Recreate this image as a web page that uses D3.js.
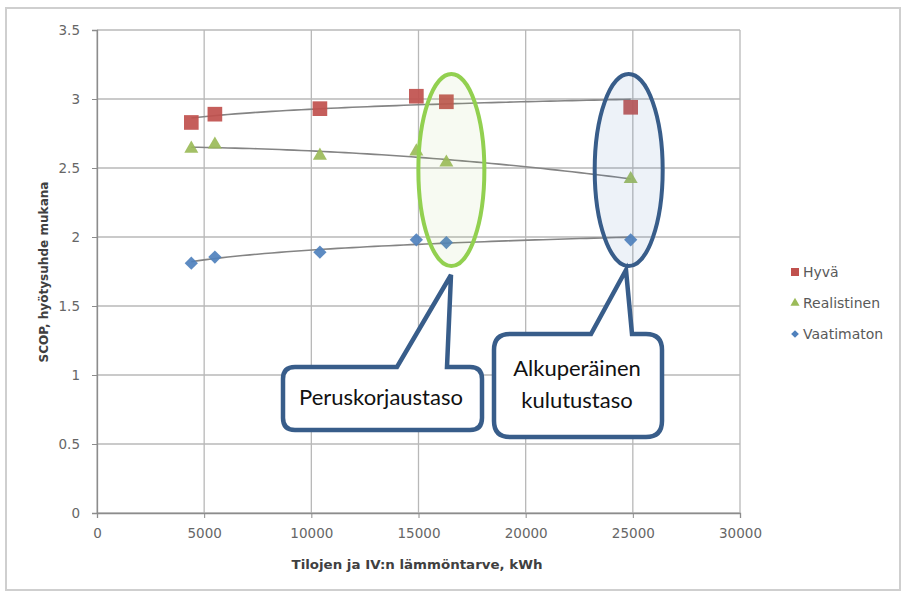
<!DOCTYPE html>
<html>
<head>
<meta charset="utf-8">
<script src="https://cdn.jsdelivr.net/npm/d3@7"></script>
<style>
  html, body { margin: 0; padding: 0; background: #fff; }
  svg { display: block; font-family: "DejaVu Sans", sans-serif; }
</style>
</head>
<body>
<svg id="chart" width="902" height="592"></svg>
<script>
// ---- Data ----
const xValues = [4400, 5500, 10400, 14900, 16300, 24900];
const hyva = [2.83, 2.89, 2.93, 3.02, 2.98, 2.94];
const realistinen = [2.64, 2.67, 2.59, 2.62, 2.54, 2.42];
const vaatimaton = [1.81, 1.855, 1.89, 1.98, 1.96, 1.98];
const seriesNames = ["Hyvä", "Realistinen", "Vaatimaton"];
const xTicks = [0, 5000, 10000, 15000, 20000, 25000, 30000];
const yTicks = [0, 0.5, 1, 1.5, 2, 2.5, 3, 3.5];
const xTitle = "Tilojen ja IV:n lämmöntarve, kWh";
const yTitle = "SCOP, hyötysuhde mukana";
const callout1 = ["Peruskorjaustaso"];
const callout2 = ["Alkuperäinen", "kulutustaso"];

// ---- Setup ----
const svg = d3.select("#chart");
const x = d3.scaleLinear().domain([0, 30000]).range([97, 740]);
const y = d3.scaleLinear().domain([0, 3.5]).range([513, 30]);
const CALLOUT_FONT = "Lato, 'Open Sans', sans-serif";

// outer border
svg.append("rect").attr("x", 6).attr("y", 8).attr("width", 894).attr("height", 582)
  .attr("fill", "#fff").attr("stroke", "#cfcfcf").attr("stroke-width", 2);

// gridlines
const grid = svg.append("g");
grid.selectAll(".hg").data(yTicks).join("line")
  .attr("x1", x(0)).attr("x2", x(30000))
  .attr("y1", d => y(d)).attr("y2", d => y(d))
  .attr("stroke", "#b8b8b8").attr("stroke-width", 1.3);
grid.selectAll(".vg").data(xTicks).join("line")
  .attr("x1", d => x(d)).attr("x2", d => x(d))
  .attr("y1", y(0)).attr("y2", y(3.5))
  .attr("stroke", "#b8b8b8").attr("stroke-width", 1.3);

// axes
const xAxis = d3.axisBottom(x).tickValues(xTicks).tickSize(5).tickPadding(10).tickFormat(d3.format("d"));
const yAxis = d3.axisLeft(y).tickValues(yTicks).tickSize(5).tickPadding(12).tickFormat(d => String(d));
const gx = svg.append("g").attr("transform", `translate(0,${y(0)})`).call(xAxis);
const gy = svg.append("g").attr("transform", `translate(${x(0)},0)`).call(yAxis);
[gx, gy].forEach(g => {
  g.attr("font-family", null).attr("font-size", null);
  g.select(".domain").attr("stroke", "#8c8c8c").attr("stroke-width", 1.3);
  g.selectAll(".tick line").attr("stroke", "#8c8c8c");
  g.selectAll(".tick text").attr("fill", "#666").style("font-size", "13.5px")
    .style("font-family", "'DejaVu Sans', sans-serif");
});

// axis titles
svg.append("text").attr("x", 417).attr("y", 569).attr("text-anchor", "middle")
  .style("font-size", "12px").attr("font-weight", "bold").attr("fill", "#404040")
  .attr("textLength", 251).attr("lengthAdjust", "spacingAndGlyphs").text(xTitle);
svg.append("text").attr("transform", "translate(48,272) rotate(-90)").attr("text-anchor", "middle")
  .style("font-size", "12px").attr("font-weight", "bold").attr("fill", "#404040")
  .attr("textLength", 181).attr("lengthAdjust", "spacingAndGlyphs").text(yTitle);

// ---- Trendlines ----
function logFit(xs, ys) {
  const lx = xs.map(Math.log);
  const mx = d3.mean(lx), my = d3.mean(ys);
  let sxy = 0, sxx = 0;
  lx.forEach((v, i) => { sxy += (v - mx) * (ys[i] - my); sxx += (v - mx) ** 2; });
  const a = sxy / sxx, b = my - a * mx;
  return v => a * Math.log(v) + b;
}
function polyFit(xs, ys) {
  const s = xs.map(v => v / 10000);
  const S = k => d3.sum(s, v => v ** k);
  const T = k => d3.sum(s, (v, i) => (v ** k) * ys[i]);
  const M = [[S(0), S(1), S(2), T(0)], [S(1), S(2), S(3), T(1)], [S(2), S(3), S(4), T(2)]];
  for (let i = 0; i < 3; i++) {
    for (let j = i + 1; j < 3; j++) {
      const f = M[j][i] / M[i][i];
      for (let k = i; k < 4; k++) M[j][k] -= f * M[i][k];
    }
  }
  const c = [0, 0, 0];
  for (let i = 2; i >= 0; i--) {
    let sum = M[i][3];
    for (let k = i + 1; k < 3; k++) sum -= M[i][k] * c[k];
    c[i] = sum / M[i][i];
  }
  return v => { const t = v / 10000; return c[0] + c[1] * t + c[2] * t * t; };
}
const fits = [logFit(xValues, hyva), polyFit(xValues, realistinen), logFit(xValues, vaatimaton)];
const xs = d3.range(0, 61).map(i => xValues[0] + (xValues[xValues.length - 1] - xValues[0]) * i / 60);
const line = d3.line().x(d => x(d[0])).y(d => y(d[1]));
fits.forEach(f => {
  svg.append("path").attr("d", line(xs.map(v => [v, f(v)])))
    .attr("fill", "none").attr("stroke", "#848484").attr("stroke-width", 1.6);
});

// ---- Markers ----
const colors = ["#C0504D", "#9BBB59", "#4F81BD"];
const symbols = [d3.symbolSquare, d3.symbolTriangle, d3.symbolSquare];
const sizes = [215, 85, 88];
const rotations = [0, 0, 45];
const allSeries = [hyva, realistinen, vaatimaton];
allSeries.forEach((vals, si) => {
  svg.append("g").selectAll("path").data(vals).join("path")
    .attr("transform", (d, i) => `translate(${x(xValues[i])},${y(d)}) rotate(${rotations[si]})`)
    .attr("d", d3.symbol().type(symbols[si]).size(sizes[si]))
    .attr("fill", colors[si]).attr("fill-opacity", 0.92);
});

// ---- Legend ----
const legend = svg.append("g");
const legSizes = [64, 36, 30];
seriesNames.forEach((name, i) => {
  const ly = 272 + i * 31;
  legend.append("path").attr("transform", `translate(795,${ly}) rotate(${rotations[i]})`)
    .attr("d", d3.symbol().type(symbols[i]).size(legSizes[i]))
    .attr("fill", colors[i]);
  legend.append("text").attr("x", 803).attr("y", ly + 5).style("font-size", "14px")
    .attr("fill", "#595959").text(name);
});

// ---- Ellipses ----
svg.append("ellipse").attr("cx", x(16300) + 5).attr("cy", 170).attr("rx", 33).attr("ry", 96)
  .attr("fill", "#9BBB59").attr("fill-opacity", 0.08)
  .attr("stroke", "#92D050").attr("stroke-width", 4);
svg.append("ellipse").attr("cx", x(24900) - 2).attr("cy", 170).attr("rx", 34).attr("ry", 96)
  .attr("fill", "#4F81BD").attr("fill-opacity", 0.1)
  .attr("stroke", "#385D8A").attr("stroke-width", 4);

// ---- Callouts ----
function callout(bx, by, bw, bh, r, p1, tip, p2) {
  const d = `M${bx + r},${by} L${p1},${by} L${tip[0]},${tip[1]} L${p2},${by} L${bx + bw - r},${by}
    Q${bx + bw},${by} ${bx + bw},${by + r} L${bx + bw},${by + bh - r}
    Q${bx + bw},${by + bh} ${bx + bw - r},${by + bh} L${bx + r},${by + bh}
    Q${bx},${by + bh} ${bx},${by + bh - r} L${bx},${by + r} Q${bx},${by} ${bx + r},${by} Z`;
  svg.append("path").attr("d", d).attr("fill", "#fff")
    .attr("stroke", "#385D8A").attr("stroke-width", 4.5).attr("stroke-linejoin", "miter");
}
callout(283, 367, 199, 63, 12, 397, [451, 275], 447);
svg.append("text").attr("x", 381).attr("y", 405).attr("text-anchor", "middle")
  .style("font-family", CALLOUT_FONT).style("font-size", "22px")
  .attr("fill", "#111").text(callout1[0]);

callout(494, 334, 168, 103, 16, 591, [626, 270], 632);
callout2.forEach((t, i) => {
  svg.append("text").attr("x", 577).attr("y", 376 + i * 32).attr("text-anchor", "middle")
    .style("font-family", CALLOUT_FONT).style("font-size", "22px")
    .attr("fill", "#111").text(t);
});
</script>
</body>
</html>
